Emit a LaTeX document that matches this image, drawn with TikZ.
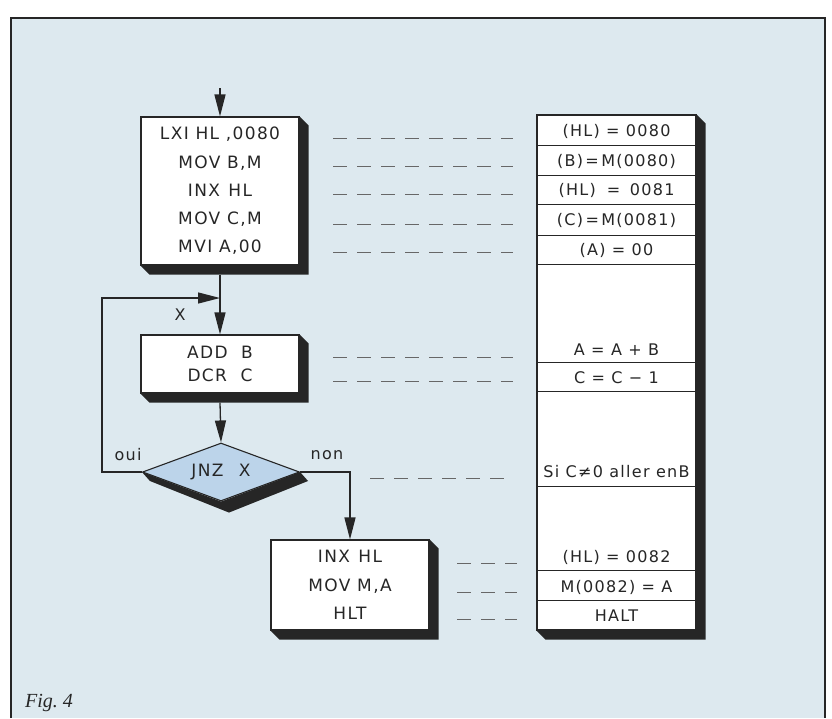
\documentclass[tikz,border=0pt]{standalone}
\usepackage{fontspec}
\setmainfont{DejaVu Sans}
\newfontfamily\lett{DejaVu Sans}[LetterSpace=8]
\newfontfamily\figfont{Liberation Serif}
\usetikzlibrary{arrows.meta,shapes.geometric,calc}
\definecolor{paper}{RGB}{221,233,239}
\definecolor{dia}{RGB}{188,212,234}
\definecolor{ink}{RGB}{38,38,38}
\newcommand\boxshadow[1]{\fill[ink] (#1.north east) -- ++(9,9) -- ($(#1.south east)+(9,9)$) -- ($(#1.south west)+(9,9)$) -- (#1.south west) -- (#1.south east) -- cycle;}
\begin{document}
\begin{tikzpicture}[x=1pt,y=-1pt,
  box/.style={draw=ink, fill=white, line width=1.1pt, rectangle, inner sep=0pt, align=center, text=ink},
  boxtext/.style={font=\lett\fontsize{17}{28.3}\selectfont},
  arr/.style={draw=ink, line width=1.3pt, -{Triangle[length=22pt,width=11pt]}},
  dashl/.style={draw=ink!70, line width=0.8pt, dash pattern=on 14pt off 10pt},
  rowline/.style={draw=ink, line width=0.9pt},
  ct/.style={text=ink, font=\lett\fontsize{16}{18}\selectfont, inner sep=0pt},
  lbl/.style={text=ink, font=\lett\fontsize{16}{18}\selectfont, inner sep=0pt}
]
\fill[white] (0,0) rectangle (832,718);
\fill[paper] (11,18) rectangle (825,718);
\useasboundingbox (0,0) rectangle (832,718);
\draw[ink, line width=1.5pt] (11,718) -- (11,18) -- (825,18) -- (825,718);

% flowchart boxes
\node[box, boxtext, minimum width=158pt, minimum height=148pt] (b1) at (220,191)
  {LXI HL ,0080\\MOV B,M\\INX\hspace{0.5em}HL\\MOV C,M\\MVI A,00};
\node[box, font=\lett\fontsize{17}{23}\selectfont, minimum width=158pt, minimum height=58pt] (b2) at (220,364)
  {ADD\hspace{0.8em}B\\DCR\hspace{0.8em}C};
\node[diamond, draw=ink, fill=dia, line width=1.1pt, minimum width=157pt, minimum height=58pt, inner sep=0pt, aspect=2.7, text=ink, font=\lett\fontsize{17}{18}\selectfont] (d) at (221,472)
  {JNZ\hspace{0.9em}X};
\node[box, font=\lett\fontsize{17}{28.5}\selectfont, minimum width=158pt, minimum height=90pt] (b3) at (350,585)
  {INX\hspace{0.5em}HL\\MOV M,A\\HLT};

\boxshadow{b1}
\boxshadow{b2}
\boxshadow{b3}
\fill[ink] (d.west) -- ($(d.west)+(8,9)$) -- ($(d.south)+(8,11)$) -- ($(d.east)+(8,9)$) -- (d.east) -- (d.south) -- cycle;

% right column
\node[box, minimum width=159pt, minimum height=515pt] (col) at (616.5,372.5) {};
\boxshadow{col}
\foreach \yy in {145,175,204,235,264,362,391,486,570,600}
  \draw[rowline] (537,\yy) -- (696,\yy);

\node[ct] (r1) at (616.5,131) {(HL) = 0080};
\node[ct] (r2) at (616.5,161) {(B)\hspace{0.15em}=\hspace{0.15em}M(0080)};
\node[ct] (r3) at (616.5,190) {(HL)\hspace{0.3em} = \hspace{0.2em}0081};
\node[ct] (r4) at (616.5,220) {(C)\hspace{0.15em}=\hspace{0.15em}M(0081)};
\node[ct] (r5) at (616.5,250) {(A) = 00};
\node[ct] (r6) at (616.5,350) {A = A + B};
\node[ct] (r7) at (616.5,378) {C = C − 1};
\node[ct] (r8) at (616.5,472) {Si C≠0 aller enB};
\node[ct] (r9) at (616.5,557) {(HL) = 0082};
\node[ct] (r10) at (616.5,587) {M(0082) = A};
\node[ct] (r11) at (616.5,616) {HALT};

% dashed correspondence lines
\foreach \yy in {138,166,194,224,252,357,381}
  \draw[dashl] (333,\yy) -- (513,\yy);
\draw[dashl] (370,478) -- (513,478);
\foreach \yy in {563,592,619}
  \draw[dashl] (457,\yy) -- (517,\yy);

% connectors
\coordinate (start) at (220,88);
\coordinate (j) at (220,298);
\draw[arr] (start) -- (b1.north);
\draw[draw=ink, line width=1.3pt] ($(b1.south)+(0,9)$) -- (j);
\draw[arr] (j) -- (b2.north);
\draw[arr] (d.west) -- ++(-40,0) |- (j);
\draw[arr] ($(b2.south)+(0,9)$) -- (d.north);
\draw[arr] (d.east) -| (b3.north);

% labels
\node[lbl] (lx) at (180,315) {X};
\node[lbl] (loui) at (128,455) {oui};
\node[lbl] (lnon) at (327,455) {non};

\node[anchor=base west, inner sep=0pt, text=ink, font=\figfont\itshape\fontsize{20}{24}\selectfont] (cap) at (25,707) {Fig.\ 4};
\end{tikzpicture}
\end{document}
